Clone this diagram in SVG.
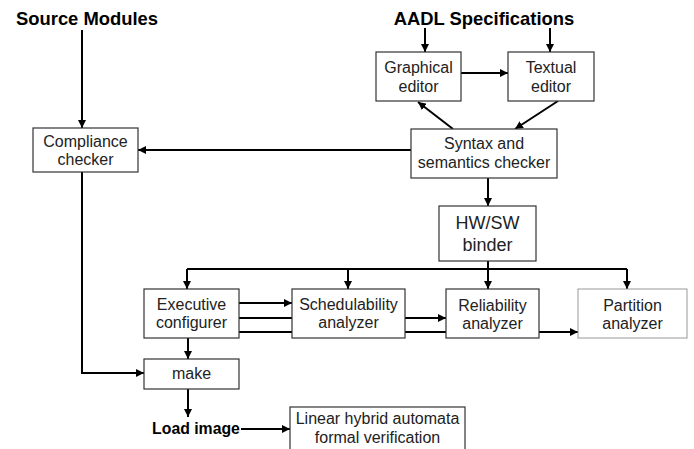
<svg xmlns="http://www.w3.org/2000/svg" width="694" height="449" viewBox="0 0 694 449">
<style>
.box{fill:#fff;stroke:#333;stroke-width:1.2}
.light{fill:#fff;stroke:#999;stroke-width:1}
.t{font-family:"Liberation Sans",Arial,sans-serif;font-size:16px;fill:#222;text-anchor:middle}
.big{font-size:18px}
.h{font-family:"Liberation Sans",Arial,sans-serif;font-weight:bold;fill:#000}
.c{fill:none;stroke:#000;stroke-width:2}
.a{marker-end:url(#ah)}
</style>
<defs>
<marker id="ah" markerUnits="userSpaceOnUse" markerWidth="8" markerHeight="8" refX="8" refY="4" orient="auto">
<path d="M0,0 L8,4 L0,8 z" fill="#000"/>
</marker>
</defs>
<rect width="694" height="449" fill="#fff"/>
<g id="labels">
<text class="h" x="16" y="25" font-size="18.4">Source Modules</text>
<text class="h" x="484" y="25" font-size="18.4" text-anchor="middle">AADL Specifications</text>
<text class="h" x="196" y="434" font-size="15.8" text-anchor="middle">Load image</text>
</g>
<g id="connectors">
<path class="c a" d="M82,30 L82,128"/>
<path class="c a" d="M425,28 L425,52"/>
<path class="c a" d="M550,28 L550,52"/>
<path class="c a" d="M461,73 L508,73"/>
<path class="c a" d="M453,129 L418,102"/>
<path class="c a" d="M558,101 L515,129"/>
<path class="c a" d="M411,150 L138,150"/>
<path class="c a" d="M488,178 L488,206"/>
<path class="c a" d="M488,261 L488,289"/>
<path class="c" d="M187,269 L627,269"/>
<path class="c a" d="M187,269 L187,289"/>
<path class="c a" d="M348,269 L348,289"/>
<path class="c a" d="M627,269 L627,289"/>
<path class="c a" d="M239,303 L292,303"/>
<path class="c" d="M239,318 L292,318"/>
<path class="c" d="M239,332 L292,332"/>
<path class="c a" d="M405,318 L446,318"/>
<path class="c" d="M405,332 L446,332"/>
<path class="c a" d="M539,332 L578,332"/>
<path class="c a" d="M188,338 L188,359"/>
<path class="c a" d="M82,172 L82,373 L144,373"/>
<path class="c a" d="M188,389 L188,417"/>
<path class="c a" d="M241,429 L290,429"/>
</g>
<g id="compliance">
<rect class="box" x="33" y="128" width="105" height="44"/>
<text class="t" x="85.5" y="147">Compliance</text>
<text class="t" x="85.5" y="165">checker</text>
</g>
<g id="graphical">
<rect class="box" x="376" y="52" width="85" height="49"/>
<text class="t" x="418.5" y="73">Graphical</text>
<text class="t" x="418.5" y="92">editor</text>
</g>
<g id="textual">
<rect class="box" x="508" y="52" width="86" height="49"/>
<text class="t" x="551" y="73">Textual</text>
<text class="t" x="551" y="92">editor</text>
</g>
<g id="syntax">
<rect class="box" x="411" y="129" width="146" height="49"/>
<text class="t" x="484" y="149">Syntax and</text>
<text class="t" x="484" y="168">semantics checker</text>
</g>
<g id="hwsw">
<rect class="box" x="439" y="206" width="97" height="55"/>
<text class="t big" x="487.5" y="229">HW/SW</text>
<text class="t big" x="487.5" y="251">binder</text>
</g>
<g id="executive">
<rect class="box" x="144" y="289" width="95" height="49"/>
<text class="t" x="191.5" y="310">Executive</text>
<text class="t" x="191.5" y="328">configurer</text>
</g>
<g id="schedulability">
<rect class="box" x="292" y="289" width="113" height="49"/>
<text class="t" x="348.5" y="310">Schedulability</text>
<text class="t" x="348.5" y="328">analyzer</text>
</g>
<g id="reliability">
<rect class="box" x="446" y="289" width="93" height="49"/>
<text class="t" x="492.5" y="311">Reliability</text>
<text class="t" x="492.5" y="329">analyzer</text>
</g>
<g id="partition">
<rect class="light" x="578" y="289" width="109" height="49"/>
<text class="t" x="632.5" y="311">Partition</text>
<text class="t" x="632.5" y="329">analyzer</text>
</g>
<g id="make">
<rect class="box" x="144" y="359" width="95" height="30"/>
<text class="t" x="191.5" y="379">make</text>
</g>
<g id="linear">
<rect class="box" x="290" y="407" width="175" height="50"/>
<text class="t" x="377.5" y="424">Linear hybrid automata</text>
<text class="t" x="377.5" y="443">formal verification</text>
</g>
</svg>
